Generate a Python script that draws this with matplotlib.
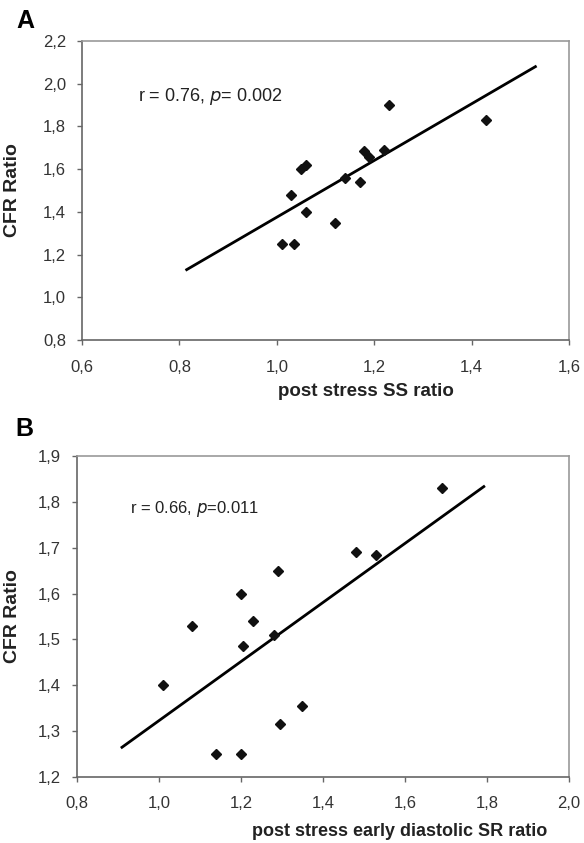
import matplotlib
matplotlib.use("Agg")
import matplotlib.pyplot as plt
from matplotlib.ticker import FuncFormatter

plt.rcParams['font.family'] = ['Liberation Sans', 'DejaVu Sans']

# panel A: post stress SS ratio vs CFR ratio
a_x = [1.01, 1.035, 1.03, 1.06, 1.05, 1.06, 1.12, 1.14, 1.17, 1.18, 1.19, 1.22, 1.23, 1.43]
a_y = [1.25, 1.25, 1.48, 1.40, 1.60, 1.62, 1.35, 1.56, 1.54, 1.685, 1.655, 1.69, 1.90, 1.83]
a_fit_x = [0.8125, 1.5335]
a_fit_y = [1.126, 2.083]

# panel B: post stress early diastolic SR ratio vs CFR ratio
b_x = [1.01, 1.08, 1.14, 1.20, 1.20, 1.205, 1.23, 1.28, 1.29, 1.295, 1.35, 1.48, 1.53, 1.69]
b_y = [1.40, 1.53, 1.25, 1.25, 1.60, 1.485, 1.54, 1.51, 1.65, 1.315, 1.355, 1.69, 1.685, 1.83]
b_fit_x = [0.907, 1.795]
b_fit_y = [1.263, 1.835]

a_xticks = [0.6, 0.8, 1.0, 1.2, 1.4, 1.6]
a_yticks = [0.8, 1.0, 1.2, 1.4, 1.6, 1.8, 2.0, 2.2]
b_xticks = [0.8, 1.0, 1.2, 1.4, 1.6, 1.8, 2.0]
b_yticks = [1.2, 1.3, 1.4, 1.5, 1.6, 1.7, 1.8, 1.9]

comma = FuncFormatter(lambda v, p: f"{v:.1f}".replace('.', ','))


def style_axes(ax, xticks, yticks, xpad):
    ax.set_xlim(xticks[0], xticks[-1])
    ax.set_ylim(yticks[0], yticks[-1])
    ax.set_xticks(xticks)
    ax.set_yticks(yticks)
    ax.xaxis.set_major_formatter(comma)
    ax.yaxis.set_major_formatter(comma)
    ax.tick_params(direction='out', length=3.6, width=1, colors='#666666',
                   labelcolor='#333333', labelsize=12)
    ax.tick_params(axis='y', pad=8)
    ax.tick_params(axis='x', pad=xpad)
    for s in ['left', 'bottom']:
        ax.spines[s].set_color('#666666')
        ax.spines[s].set_linewidth(1.2)
    for s in ['top', 'right']:
        ax.spines[s].set_color('#999999')
        ax.spines[s].set_linewidth(1.2)


fig = plt.figure(figsize=(5.84, 8.43), dpi=100)

ax1 = fig.add_axes([0.1404, 0.5967, 0.8339, 0.3547])
ax1.plot(a_fit_x, a_fit_y, color='black', lw=2, solid_capstyle='butt')
ax1.plot(a_x, a_y, 'D', color='#111111', ms=5.5, mec='#111111')
style_axes(ax1, a_xticks, a_yticks, 11)
ax1.text(0.715, 1.942, r"r = 0.76, $\it{p}$= 0.002", fontsize=13, va='center', color='#222222')
ax1.set_ylabel("CFR Ratio", fontsize=14, fontweight='bold', color='#222222')
ax1.yaxis.set_label_coords(-0.125, 0.5)
ax1.set_xlabel("post stress SS ratio", fontsize=13.5, fontweight='bold', color='#222222')
ax1.xaxis.set_label_coords(0.583, -(392 - 340) / 299)
ax1.xaxis.label.set_va('center')
fig.text(25 / 584, 1 - 21 / 843, "A", fontsize=18, fontweight='bold', va='center', ha='center')

ax2 = fig.add_axes([0.1318, 0.0783, 0.8425, 0.3808])
ax2.plot(b_fit_x, b_fit_y, color='black', lw=2, solid_capstyle='butt')
ax2.plot(b_x, b_y, 'D', color='#111111', ms=5.5, mec='#111111')
style_axes(ax2, b_xticks, b_yticks, 10)
ax2.text(0.93, 1.784, r"r = 0.66, $\it{p}$=0.011", fontsize=12, va='center', color='#222222')
ax2.set_ylabel("CFR Ratio", fontsize=14, fontweight='bold', color='#222222')
ax2.yaxis.set_label_coords(-0.114, 0.5)
ax2.set_xlabel("post stress early diastolic SR ratio", fontsize=13, fontweight='bold', color='#222222')
ax2.xaxis.set_label_coords((400 - 77) / 492, -(832 - 777) / 321)
ax2.xaxis.label.set_va('center')
fig.text(24 / 584, 1 - 429 / 843, "B", fontsize=18, fontweight='bold', va='center', ha='center')

fig.savefig("out.png", dpi=100)
